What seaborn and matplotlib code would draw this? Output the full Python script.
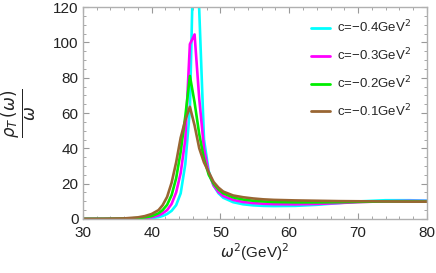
import numpy as np
import pandas as pd
import seaborn as sns
import matplotlib
matplotlib.use("Agg")
import matplotlib.pyplot as plt
from matplotlib.ticker import MultipleLocator

sns.set_theme(style="white")
plt.rcParams['font.family'] = ['Liberation Sans', 'DejaVu Sans']
plt.rcParams['mathtext.fontset'] = 'dejavusans'

# omega^2 grid (GeV^2)
omega2 = [30, 33, 36, 38, 39, 40, 41, 41.60, 42.25, 42.90, 43.56, 44.22, 44.89, 45.56,
          46.24, 46.92, 47.61, 48.30, 49.0, 49.70, 50.41, 51.84, 53.29, 54.76, 56.25,
          57.76, 60.84, 64.0, 67.24, 70.56, 73.96, 77.44, 81.0]

rho_c04 = [0.005, 0.01, 0.03, 0.12, 0.25, 0.5, 1.0, 1.7, 2.8, 4.6, 7.8, 14.5, 31, 62,
           178, 118, 45, 27, 19, 14.6, 12, 9.5, 8.3, 7.7, 7.4,
           7.3, 7.4, 8.0, 9.0, 10.0, 10.6, 10.6, 10.3]
rho_c03 = [0.01, 0.02, 0.08, 0.3, 0.55, 1.0, 2.0, 3.2, 5, 8.5, 15, 26, 45, 99,
           104.5, 68, 40, 26, 19, 15.3, 13, 10.8, 9.6, 9.0, 8.6,
           8.4, 8.3, 8.5, 9.0, 9.6, 10.0, 10.2, 10.1]
rho_c02 = [0.02, 0.05, 0.15, 0.5, 0.9, 1.6, 3.2, 5.0, 8, 13.5, 23, 38, 58, 81,
           66, 48, 34, 25, 20, 16.8, 14.5, 12.2, 11, 10.3, 9.9,
           9.6, 9.4, 9.4, 9.5, 9.7, 9.9, 9.9, 9.8]
rho_c01 = [0.05, 0.1, 0.3, 0.9, 1.6, 2.8, 5.0, 7.8, 12.5, 20.5, 32, 46, 56, 63.5,
           53, 40, 32, 26.5, 21, 17.8, 15.5, 13.3, 12.3, 11.6, 11.1,
           10.8, 10.5, 10.3, 10.1, 10.0, 9.9, 9.8, 9.8]

labels = ['c=\u22120.4GeV$^2$', 'c=\u22120.3GeV$^2$', 'c=\u22120.2GeV$^2$', 'c=\u22120.1GeV$^2$']
colors = ['#00FFFF', '#FF00FF', '#00EE00', '#996633']

frames = []
for lab, vals in zip(labels, [rho_c04, rho_c03, rho_c02, rho_c01]):
    frames.append(pd.DataFrame({'w2': omega2, 'rho': vals, 'c': lab}))
df = pd.concat(frames, ignore_index=True)

fig = plt.figure(figsize=(4.36, 2.73), dpi=100)
ax = fig.add_axes([0.19, 0.198, 0.789, 0.776])

sns.lineplot(data=df, x='w2', y='rho', hue='c', palette=colors,
             linewidth=1.9, ax=ax, sort=False, estimator=None)

ax.set_xlim(30, 80)
ax.set_ylim(0, 120)
ax.xaxis.set_major_locator(MultipleLocator(10))
ax.xaxis.set_minor_locator(MultipleLocator(2))
ax.yaxis.set_major_locator(MultipleLocator(20))
ax.yaxis.set_minor_locator(MultipleLocator(5))
ax.tick_params(which='both', direction='in', bottom=True, left=True, top=True, right=True,
               color='#999999', labelsize=11, labelcolor='#222222')
ax.tick_params(which='major', length=4, width=0.8)
ax.tick_params(which='minor', length=2.2, width=0.6)
ax.tick_params(axis='x', pad=5)
ax.tick_params(axis='y', pad=3)
for s in ax.spines.values():
    s.set_color('#b0b0b0')
    s.set_linewidth(1.0)

ax.set_xlabel(r'$\omega^2$(GeV)$^2$', fontsize=11, color='#222222', labelpad=1)
ax.set_ylabel(r'$\frac{\rho_T\,(\omega)}{\omega}$', fontsize=17, color='#222222', labelpad=10)

leg = ax.legend(loc='upper right', frameon=False, fontsize=9.5, handlelength=1.4,
                labelspacing=0.85, handletextpad=0.6, bbox_to_anchor=(0.99, 1.0))
for line in leg.get_lines():
    line.set_linewidth(2.0)

fig.savefig('out.png', dpi=100)
